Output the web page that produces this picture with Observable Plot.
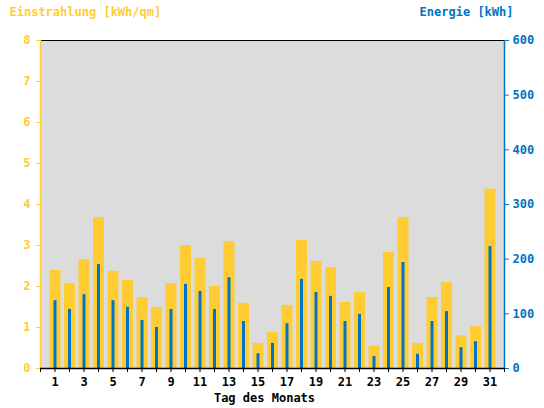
<!DOCTYPE html>
<html>
<head>
<meta charset="utf-8">
<script src="https://cdn.jsdelivr.net/npm/d3@7"></script>
<script src="https://cdn.jsdelivr.net/npm/@observablehq/plot@0.6"></script>
<style>
  html, body { margin: 0; padding: 0; background: #fff; }
  svg { display: block; }
</style>
</head>
<body>
<div id="chart"></div>
<script>
const days = d3.range(1, 32);
const einstrahlung = [2.39, 2.07, 2.66, 3.68, 2.37, 2.15, 1.73, 1.49, 2.07, 3.0,
  2.68, 2.0, 3.10, 1.59, 0.61, 0.88, 1.54, 3.12, 2.61, 2.46,
  1.61, 1.85, 0.54, 2.83, 3.68, 0.61, 1.73, 2.10, 0.80, 1.02, 4.37];
const energie = [124, 108, 135, 190, 124, 112, 88, 75, 108, 154,
  141, 108, 166, 86, 27, 46, 82, 163, 139, 132,
  86, 99, 22, 148, 194, 26, 86, 104, 38, 49, 223];
const leftTicks = [0, 1, 2, 3, 4, 5, 6, 7, 8];
const rightTicks = [0, 100, 200, 300, 400, 500, 600];
const xTicks = d3.range(0, 33);
const xLabels = d3.range(1, 32, 2);

const yellow = "#ffcc33";
const blue = "#0073c4";
const ratio = 600 / 8;

const data = days.map((d, i) => ({day: d, e: einstrahlung[i], k: energie[i]}));
const font = "'DejaVu Sans Mono', monospace";

const chart = Plot.plot({
  width: 544,
  height: 408,
  marginLeft: 40,
  marginRight: 40,
  marginTop: 40,
  marginBottom: 40,
  style: {fontFamily: font, fontSize: "12px", fontWeight: "bold", background: "#fff", overflow: "visible"},
  x: {domain: [0, 32]},
  y: {domain: [0, 8]},
  marks: [
    Plot.frame({fill: "#dcdcdc", stroke: null}),
    Plot.ruleY([8], {stroke: "#000", strokeWidth: 1}),
    Plot.ruleX(data, {x: "day", y1: 0, y2: "e", stroke: yellow, strokeWidth: 11}),
    Plot.ruleX(data, {x: "day", y1: 0, y2: d => d.k / ratio, stroke: blue, strokeWidth: 3}),
    Plot.axisY({anchor: "left", ticks: leftTicks, tickSize: 4, tickPadding: 6, color: yellow, label: null, fontSize: 12, fontWeight: "bold"}),
    Plot.axisY({anchor: "right", ticks: rightTicks.map(v => v / ratio), tickFormat: v => String(Math.round(v * ratio)), tickSize: 4, tickPadding: 4, color: blue, label: null, fontSize: 12, fontWeight: "bold"}),
    Plot.ruleX([0], {stroke: yellow, strokeWidth: 1.5}),
    Plot.ruleX([32], {stroke: blue, strokeWidth: 1.5}),
    Plot.axisX({ticks: xTicks, tickFormat: () => "", tickSize: 4, stroke: "#000", label: null}),
    Plot.axisX({ticks: xLabels, tickSize: 0, tickPadding: 9, fill: "#000", label: null, fontSize: 12, fontWeight: "bold"}),
    Plot.ruleY([0], {stroke: "#000", strokeWidth: 1.5}),
    Plot.text(["Einstrahlung [kWh/qm]"], {frameAnchor: "top-left", dx: -31, dy: -33, textAnchor: "start", fill: yellow, fontSize: 12, fontWeight: "bold"}),
    Plot.text(["Energie [kWh]"], {frameAnchor: "top-right", dx: 9, dy: -33, textAnchor: "end", fill: blue, fontSize: 12, fontWeight: "bold"}),
    Plot.text(["Tag des Monats"], {frameAnchor: "bottom", dx: -8, dy: 33, fill: "#000", fontSize: 12, fontWeight: "bold"})
  ]
});
document.getElementById("chart").appendChild(chart);
</script>
</body>
</html>
